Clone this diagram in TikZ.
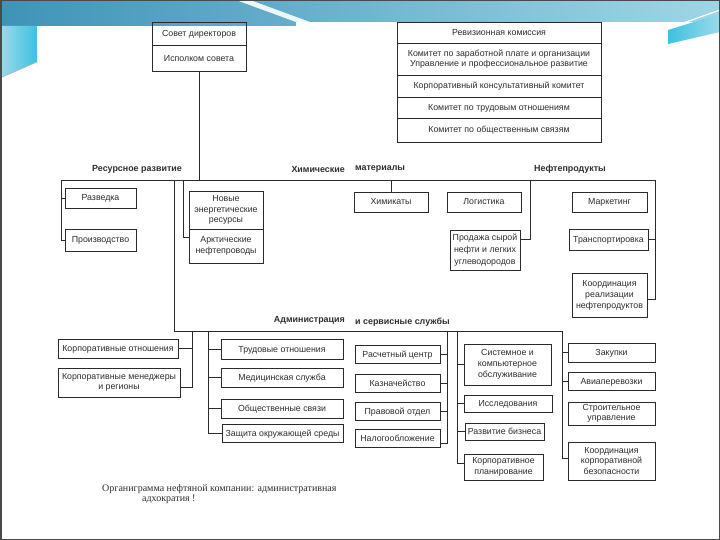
\documentclass[tikz,border=0pt]{standalone}
\usepackage{fontspec}
\setmainfont{Liberation Sans}
\newfontfamily\capfont{Liberation Serif}
\usetikzlibrary{calc}
\definecolor{linec}{HTML}{2A2A2A}
\definecolor{txt}{HTML}{2E2E2E}
\definecolor{bandA}{HTML}{3F93B8}
\definecolor{bandB}{HTML}{9FD6E6}
\definecolor{cyanA}{HTML}{9ED9EA}
\definecolor{cyanB}{HTML}{3CC2E0}
\definecolor{framec}{HTML}{4A4A4A}
\begin{document}
\begin{tikzpicture}[x=1pt,y=-1pt,
  bx/.style={draw=linec, line width=0.8pt, inner sep=1pt, align=center,
    font=\fontsize{8.8}{10.5}\selectfont, text=txt},
  bxa/.style={draw=linec, line width=0.8pt, inner sep=1pt,
    font=\fontsize{8.8}{10.5}\selectfont, text=txt, text height=6.3pt, text depth=0.3pt},
  lbl/.style={font=\bfseries\fontsize{8.9}{10}\selectfont, text=txt, inner sep=0pt},
  ln/.style={draw=linec, line width=0.8pt}]
\useasboundingbox (0,0) rectangle (720,540);
% ---------- slide background ----------
\fill[white] (0,0) rectangle (720,540);
\shade[left color=bandA, right color=bandB] (0,0) rectangle (720,26);
\fill[white!80!bandB] (236,0) -- (250,0) -- (310,22) -- (296,22) -- cycle;
\fill[white] (296,22) -- (720,22) -- (720,26) -- (296,26) -- cycle;
\shade[left color=cyanA, right color=cyanB] (0,26) -- (37,26) -- (37,62) -- (0,78) -- cycle;
\draw[gray!60, line width=0.6pt] (0,78) -- (37,62);
\shade[left color=cyanB, right color=cyanA] (668,30) -- (720,14) -- (720,32) -- (668,44) -- cycle;
\draw[white, line width=1.2pt] (675,26) -- (720,10);
\fill[white] (37,26) rectangle (668,512);
\draw[framec, line width=1.5pt] (0.75,0.75) rectangle (719.25,539.25);
% ---------- board ----------
\node[bxa, minimum width=94pt, minimum height=23.5pt] (sovet) at (199,33.75) {Совет директоров};
\node[bxa, minimum width=94pt, minimum height=25.5pt] (ispolkom) at (199,58.25) {Исполком совета};
% ---------- committees ----------
\node[bxa, minimum width=204pt, minimum height=21pt] (rev) at (499,32.5) {Ревизионная комиссия};
\node[bx, minimum width=204pt, minimum height=32pt] (zp) at (499,59) {Комитет по заработной плате и организации\\Управление и профессиональное развитие};
\node[bxa, minimum width=204pt, minimum height=22pt] (kk) at (499,86) {Корпоративный консультативный комитет};
\node[bxa, minimum width=204pt, minimum height=21pt] (tro) at (499,107.5) {Комитет по трудовым отношениям};
\node[bxa, minimum width=204pt, minimum height=24pt] (osv) at (499,130) {Комитет по общественным связям};
% ---------- section labels ----------
\node[lbl] (lres) at (137,169) {Ресурсное развитие};
\node[lbl, anchor=east] (lhim) at (345,169) {Химические};
\node[lbl, anchor=west] (lmat) at (355,169) {материалы};
\node[lbl] (lneft) at (570,169) {Нефтепродукты};
\node[lbl, anchor=east] (ladm) at (345,320) {Администрация};
\node[lbl, anchor=west] (lserv) at (355,322) {и сервисные службы};
% ---------- resource development ----------
\node[bxa, minimum width=71pt, minimum height=20pt] (razv) at (100.5,198) {Разведка};
\node[bxa, minimum width=71pt, minimum height=22pt] (proizv) at (100.5,240) {Производство};
\node[bx, minimum width=74pt, minimum height=38pt] (novye) at (226,210) {Новые\\энергетические\\ресурсы};
\node[bx, minimum width=74pt, minimum height=34pt] (arkt) at (226,246) {Арктические\\нефтепроводы};
% ---------- chemicals / oil products ----------
\node[bxa, minimum width=74pt, minimum height=20pt] (himik) at (391,202) {Химикаты};
\node[bxa, minimum width=74pt, minimum height=20pt] (logist) at (484,202) {Логистика};
\node[bx, minimum width=70pt, minimum height=40pt, font=\fontsize{8.8}{12}\selectfont] (prod) at (485,250) {Продажа сырой\\нефти и легких\\углеводородов};
\node[bxa, minimum width=75pt, minimum height=20pt] (mark) at (609.5,202) {Маркетинг};
\node[bxa, minimum width=79pt, minimum height=21pt] (transp) at (608.5,239.5) {Транспортировка};
\node[bx, minimum width=75pt, minimum height=44pt, font=\fontsize{8.8}{11}\selectfont] (koord) at (609.5,295) {Координация\\реализации\\нефтепродуктов};
% ---------- administration ----------
\node[bxa, minimum width=120pt, minimum height=19pt] (kotn) at (118,348.5) {Корпоративные отношения};
\node[bx, minimum width=122pt, minimum height=29pt] (kmen) at (119,382.5) {Корпоративные менеджеры\\и регионы};
\node[bxa, minimum width=122pt, minimum height=20pt] (trud) at (282,349) {Трудовые отношения};
\node[bxa, minimum width=122pt, minimum height=19pt] (med) at (282,377.5) {Медицинская служба};
\node[bxa, minimum width=122pt, minimum height=19pt] (obsch) at (282,408.5) {Общественные связи};
\node[bxa, minimum width=121pt, minimum height=18pt] (zasch) at (282.5,433) {Защита окружающей среды};
\node[bxa, minimum width=85pt, minimum height=18pt] (rasch) at (397.5,354) {Расчетный центр};
\node[bxa, minimum width=85pt, minimum height=18pt] (kazn) at (397.5,383) {Казначейство};
\node[bxa, minimum width=85pt, minimum height=18pt] (prav) at (397.5,411) {Правовой отдел};
\node[bxa, minimum width=85pt, minimum height=18pt] (nalog) at (397.5,438) {Налогообложение};
\node[bx, minimum width=87pt, minimum height=41pt, font=\fontsize{8.8}{11}\selectfont] (sist) at (507.5,364.5) {Системное и\\компьютерное\\обслуживание};
\node[bxa, minimum width=88pt, minimum height=17pt] (issl) at (508,403.5) {Исследования};
\node[bxa, minimum width=79pt, minimum height=17pt] (razvb) at (504.5,431.5) {Развитие бизнеса};
\node[bx, minimum width=79pt, minimum height=26pt] (kplan) at (503.5,467) {Корпоративное\\планирование};
\node[bxa, minimum width=87pt, minimum height=19pt] (zak) at (611.5,352.5) {Закупки};
\node[bxa, minimum width=87pt, minimum height=18pt] (avia) at (611.5,381) {Авиаперевозки};
\node[bx, minimum width=87pt, minimum height=23pt] (stroi) at (611.5,413.5) {Строительное\\управление};
\node[bx, minimum width=87pt, minimum height=38pt] (kbez) at (611.5,461) {Координация\\корпоративной\\безопасности};
% ---------- caption ----------
\node[anchor=west, inner sep=0pt, text=txt, font=\capfont\fontsize{10}{11}\selectfont] (cap1) at (102,489) {Органиграмма нефтяной компании: административная};
\node[anchor=west, inner sep=0pt, text=txt, font=\capfont\fontsize{10}{11}\selectfont] (cap2) at (142,499) {адхократия !};
% ---------- connectors ----------
\coordinate (hl) at (61,180);
\coordinate (hr) at (655,180);
\draw[ln] (hl) -- (hr);
\draw[ln] (ispolkom.south) -- (ispolkom.south |- hl);
\draw[ln] (hl) |- (proizv.west);
\draw[ln] (razv.west) -- (razv.west -| hl);
\coordinate (a1) at (174,180);
\coordinate (a2) at (174,331);
\coordinate (ar) at (562,331);
\draw[ln] (a1) -- (a2) -- (ar);
\coordinate (n0) at (183,180);
\draw[ln] (n0) |- ($(arkt.north west)+(0,9)$);
\draw[ln] ($(novye.north west)+(0,8)$) -- ($(novye.north west)+(0,8)$ -| n0);
\draw[ln] (himik.north) -- (himik.north |- hl);
\coordinate (l0) at (530,180);
\draw[ln] (l0) |- ($(prod.north east)+(0,10)$);
\draw[ln] ($(logist.east)+(0,-3)$) -- ($(logist.east)+(0,-3)$ -| l0);
\draw[ln] (hr) |- ($(koord.east)+(0,4)$);
\draw[ln] (transp.east) -- (transp.east -| hr);
% administration left
\coordinate (b1) at (192,331);
\draw[ln] (b1) |- ($(kmen.east)+(0,5)$);
\draw[ln] (kotn.east) -- (kotn.east -| b1);
\coordinate (b2) at (208,331);
\draw[ln] (b2) |- (zasch.west);
\draw[ln] (trud.west) -- (trud.west -| b2);
\draw[ln] (med.west) -- (med.west -| b2);
\draw[ln] (obsch.west) -- (obsch.west -| b2);
% services right
\coordinate (c1) at (447,331);
\draw[ln] (c1) |- ($(nalog.east)+(0,5)$);
\draw[ln] (rasch.east) -- (rasch.east -| c1);
\draw[ln] (kazn.east) -- (kazn.east -| c1);
\draw[ln] (prav.east) -- (prav.east -| c1);
\coordinate (c2) at (457,331);
\draw[ln] (c2) |- ($(kplan.west)+(0,-4)$);
\draw[ln] (sist.west) -- (sist.west -| c2);
\draw[ln] (issl.west) -- (issl.west -| c2);
\draw[ln] (razvb.west) -- (razvb.west -| c2);
\draw[ln] (ar) |- ($(kbez.west)+(0,-3)$);
\draw[ln] (zak.west) -- (zak.west -| ar);
\draw[ln] (avia.west) -- (avia.west -| ar);
\draw[ln] ($(stroi.west)+(0,3)$) -- ($(stroi.west)+(0,3)$ -| ar);
\end{tikzpicture}
\end{document}
